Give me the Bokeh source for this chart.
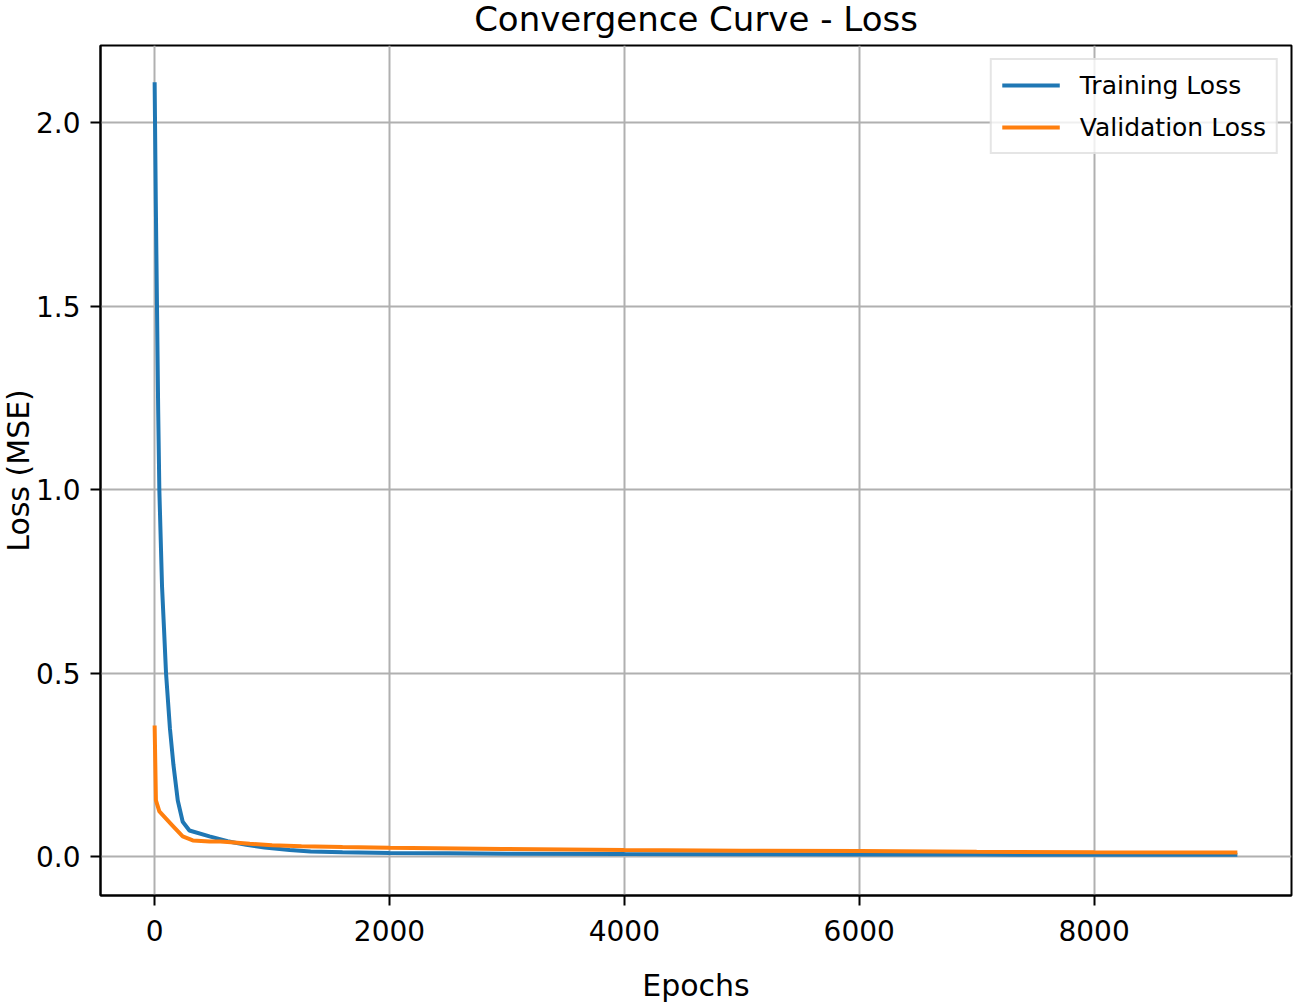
from bokeh.plotting import figure
from bokeh.models import Range1d, FixedTicker, PrintfTickFormatter, Legend, LegendItem
from bokeh.embed import file_html
from bokeh.resources import INLINE

# ---- data ----
train_epochs = [0, 10, 20, 30, 40, 63, 80, 97, 130, 160, 197, 239, 296, 467,
                621, 780, 936, 1150, 1328, 1600, 2000, 2500, 3000, 4000, 5000,
                6000, 7000, 8000, 9220]
train_loss = [2.11, 1.78, 1.50, 1.22, 1.00, 0.736, 0.62, 0.50, 0.35, 0.25, 0.153,
              0.095, 0.071, 0.055, 0.042, 0.032, 0.025, 0.018, 0.014, 0.012, 0.010,
              0.009, 0.008, 0.007, 0.0065, 0.006, 0.0055, 0.005, 0.005]

val_epochs = [0, 11, 40, 154, 239, 325, 467, 560, 650, 810, 1000, 1250,
              1600, 2000, 2966, 4000, 5000, 6000, 7000, 8000, 9220]
val_loss = [0.357, 0.153, 0.123, 0.084, 0.055, 0.044, 0.041, 0.041, 0.039, 0.035,
            0.031, 0.028, 0.026, 0.024, 0.021, 0.018, 0.016, 0.015, 0.013, 0.012,
            0.0115]

x_ticks = [0, 2000, 4000, 6000, 8000]
y_ticks = [0.0, 0.5, 1.0, 1.5, 2.0]

title_text = "Convergence Curve - Loss"
x_label = "Epochs"
y_label = "Loss (MSE)"
series_names = ["Training Loss", "Validation Loss"]
colors = ["#1f77b4", "#ff7f0e"]

FONT = "DejaVu Sans"

SHIFT_X, SHIFT_Y = 3, 7   # canvas pulled slightly up/left so title and y label sit near the edge

p = figure(width=1298, height=1012, output_backend="svg", toolbar_location=None,
           x_range=Range1d(-461, 9681), y_range=Range1d(-0.106, 2.21),
           min_border_left=103, min_border_right=4, min_border_top=52,
           min_border_bottom=110, title=title_text)
p.styles = {"margin-top": f"-{SHIFT_Y}px", "margin-left": f"-{SHIFT_X}px"}

p.background_fill_color = "white"
p.border_fill_color = "white"
p.outline_line_color = "black"
p.outline_line_width = 2

p.title.align = "center"
p.title.vertical_align = "top"
p.title.text_font = FONT
p.title.text_font_size = "34px"
p.title.text_font_style = "normal"
p.title.text_color = "black"
p.title.standoff = 10
p.title.offset = 0

r1 = p.line(train_epochs, train_loss, line_color=colors[0], line_width=4)
r2 = p.line(val_epochs, val_loss, line_color=colors[1], line_width=4)

# axes
p.xaxis.ticker = FixedTicker(ticks=x_ticks)
p.yaxis.ticker = FixedTicker(ticks=y_ticks)
p.yaxis.formatter = PrintfTickFormatter(format="%.1f")
for ax in (p.xaxis[0], p.yaxis[0]):
    ax.major_label_text_font = FONT
    ax.major_label_text_color = "black"
    ax.axis_label_text_font = FONT
    ax.axis_label_text_font_style = "normal"
    ax.axis_label_text_color = "black"
    ax.major_tick_out = 10
    ax.major_tick_in = 0
    ax.major_tick_line_width = 2
    ax.major_tick_line_color = "black"
    ax.minor_tick_out = 0
    ax.minor_tick_in = 0
    ax.axis_line_color = "black"
    ax.axis_line_width = 2

p.xaxis.axis_label = x_label
p.yaxis.axis_label = y_label
p.xaxis.major_label_text_font_size = "28px"
p.yaxis.major_label_text_font_size = "28px"
p.xaxis.axis_label_text_font_size = "30px"
p.yaxis.axis_label_text_font_size = "30px"
p.xaxis.major_label_standoff = 14
p.yaxis.major_label_standoff = 10
p.xaxis.axis_label_standoff = 24
p.yaxis.axis_label_standoff = -3

# grid
p.grid.grid_line_color = "#b0b0b0"
p.grid.grid_line_width = 2
p.xgrid.ticker = FixedTicker(ticks=x_ticks)
p.ygrid.ticker = FixedTicker(ticks=y_ticks)

legend = Legend(items=[LegendItem(label=series_names[0], renderers=[r1]),
                       LegendItem(label=series_names[1], renderers=[r2])],
                location="top_right")
legend.margin = 13
legend.padding = 10
legend.spacing = 12
legend.glyph_width = 58
legend.glyph_height = 30
legend.label_height = 30
legend.label_standoff = 20
legend.label_text_font = FONT
legend.label_text_font_size = "25px"
legend.label_text_color = "black"
legend.border_line_color = "#cccccc"
legend.border_line_width = 2
legend.background_fill_color = "white"
legend.background_fill_alpha = 0.8
p.add_layout(legend)

open("out.html", "w").write(file_html(p, INLINE))
